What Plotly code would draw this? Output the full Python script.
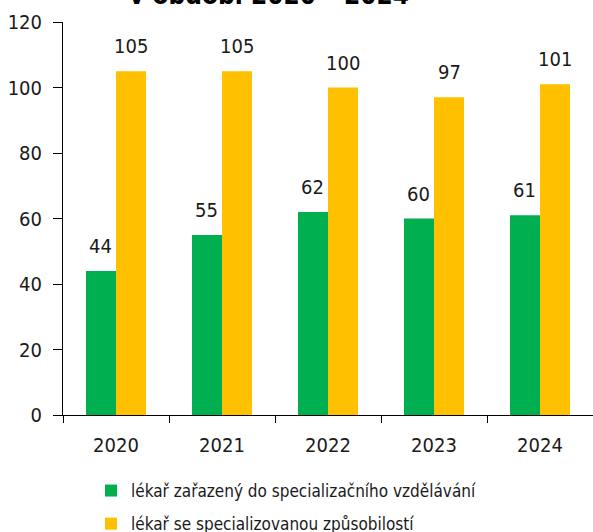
import plotly.graph_objects as go

years = ["2020", "2021", "2022", "2023", "2024"]
zarazeny = [44, 55, 62, 60, 61]
specializovany = [105, 105, 100, 97, 101]
series_names = ["lékař zařazený do specializačního vzdělávání", "lékař se specializovanou způsobilostí"]
title_text = "v období 2020 – 2024"

FONT = "DejaVu Sans Condensed"
GREEN = "#00B050"
YELLOW = "#FFC000"
TXT = "#1a1a1a"

fig = go.Figure()
fig.add_trace(go.Bar(x=years, y=zarazeny, name=series_names[0], marker_color=GREEN,
                     marker_line_width=0, legendgroup="a"))
fig.add_trace(go.Bar(x=years, y=specializovany, name=series_names[1], marker_color=YELLOW,
                     marker_line_width=0, legendgroup="b"))

for vals, off in [(zarazeny, -0.145), (specializovany, 0.145)]:
    for j, v in enumerate(vals):
        fig.add_annotation(x=j + off, y=v, text=str(v), showarrow=False, yanchor="bottom",
                           yshift=11, font=dict(family=FONT, size=20, color=TXT))

fig.add_annotation(xref="paper", yref="paper", x=(269 - 63) / 530, y=1 + (22 - 12) / 393,
                   xanchor="center", yanchor="bottom", showarrow=False,
                   text="<b>" + title_text + "</b>", font=dict(family=FONT, size=26, color="#000"))

fig.update_layout(
    width=593, height=532,
    margin=dict(l=63, r=0, t=22, b=117, autoexpand=False),
    barmode="group", bargap=0.434, bargroupgap=0,
    plot_bgcolor="white", paper_bgcolor="white",
    font=dict(family=FONT, size=20, color=TXT),
    showlegend=True,
    legend=dict(x=(91 - 63) / 530, y=-(473 - 415) / 393, xanchor="left", yanchor="top",
                orientation="v", font=dict(family=FONT, size=17, color=TXT),
                itemwidth=30, traceorder="grouped", tracegroupgap=8),
)
fig.update_xaxes(showline=True, linecolor="black", linewidth=1, ticks="outside", ticklen=7,
                 tickcolor="black", tickson="boundaries", showgrid=False, range=[-0.5, 4.5],
                 tickfont=dict(family=FONT, size=20, color=TXT), ticklabelstandoff=12)
fig.update_yaxes(showline=True, linecolor="black", linewidth=1, ticks="outside", ticklen=9,
                 tickcolor="black", showgrid=False, range=[0, 120], dtick=20, zeroline=False,
                 tickfont=dict(family=FONT, size=20, color=TXT), ticklabelstandoff=7)

fig.write_html("out.html", config={"displayModeBar": False},
               post_script="document.body.style.margin='0';")
